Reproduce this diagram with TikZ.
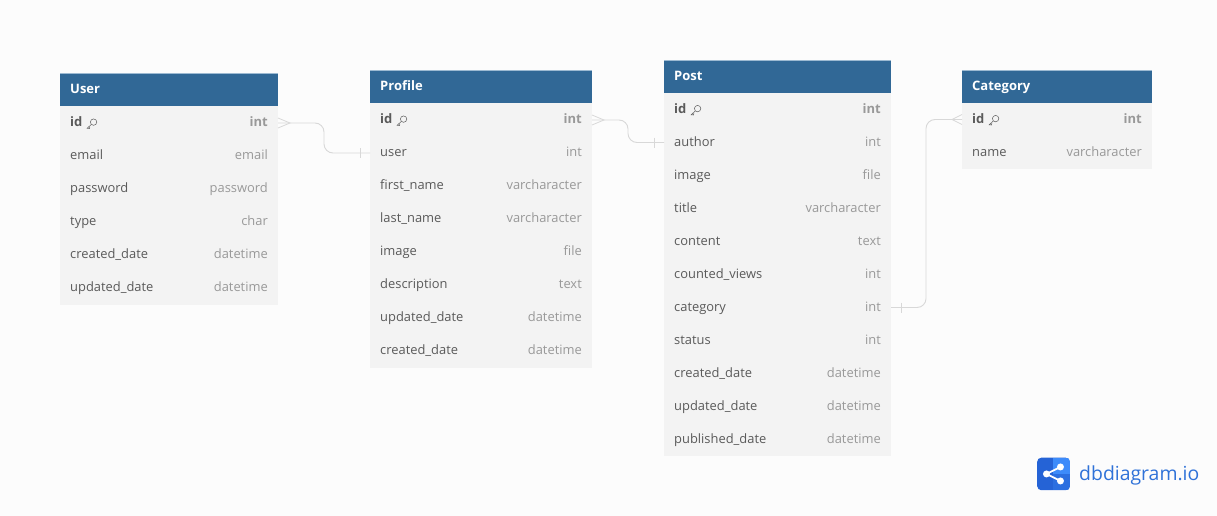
\documentclass[tikz,border=0pt]{standalone}
\usepackage{fontspec}
\setmainfont{Open Sans}
\usetikzlibrary{positioning}
\definecolor{pagebg}{HTML}{FCFCFC}
\definecolor{headblue}{HTML}{316896}
\definecolor{headedge}{HTML}{9DBAD2}
\definecolor{rowgrey}{HTML}{F3F3F3}
\definecolor{fieldgrey}{HTML}{5A5A5A}
\definecolor{typegrey}{HTML}{999999}
\definecolor{relgrey}{HTML}{D8D8D8}
\definecolor{logodark}{HTML}{2563D6}
\definecolor{logomid}{HTML}{2C6FE0}
\definecolor{logolight}{HTML}{3D8BFA}
\definecolor{logotext}{HTML}{2F72D8}
\tikzset{
	tablehead/.style = {fill=headblue, minimum height=33pt, inner sep=0pt, outer sep=0pt},
	rowbox/.style = {fill=rowgrey, minimum height=33pt, inner sep=0pt, outer sep=0pt},
	headtext/.style = {text=white, font=\fontsize{13}{15}\selectfont\bfseries, inner sep=0pt, text height=9.5pt, text depth=3pt},
	fieldname/.style = {text=fieldgrey, font=\fontsize{12.9}{15}\selectfont, inner sep=0pt, text height=9.5pt, text depth=3pt},
	fieldtype/.style = {text=typegrey, font=\fontsize{12.9}{15}\selectfont, inner sep=0pt, text height=9.5pt, text depth=3pt},
	keyname/.style = {fieldname, font=\fontsize{13}{15}\selectfont\bfseries},
	keytype/.style = {fieldtype, font=\fontsize{13}{15}\selectfont\bfseries},
	rel/.style = {draw=relgrey, line width=0.9pt, rounded corners=9pt},
	relmark/.style = {draw=relgrey, line width=0.8pt},
	logonode/.style = {fill=white, circle, inner sep=0pt, minimum size=7pt},
	keyicon/.pic = {
		\draw[fieldgrey, line width=0.5pt] (2,-1.6) circle (3.2pt);
		\draw[fieldgrey, line width=0.5pt] (-0.4,0.8) -- (-4.4,4.6) -- (-2,4.8) -- (-1.8,3.2);
	},
}
% one table head, then rows below one another
\newcommand{\dbhead}[5]{%
	\node (#1)[tablehead, minimum width=#4pt, anchor=north west] at (#2,#3){};
	\draw[headedge, line width=0.6pt] (#1.north west) -- (#1.north east);
	\node (#1-title)[headtext, anchor=west] at ([shift={(10,0.7)}]#1.west){#5};
}
\newcommand{\dbrow}[5]{%
	\node (#1)[rowbox, minimum width=#3pt, below=0pt of #2]{};
	\node (#1-name)[fieldname, anchor=west] at ([shift={(10,0.7)}]#1.west){#4};
	\node (#1-type)[fieldtype, anchor=east] at ([shift={(-10,0.7)}]#1.east){#5};
}
\newcommand{\dbkey}[3]{%
	\node (#1)[rowbox, minimum width=#3pt, below=0pt of #2]{};
	\node (#1-name)[keyname, anchor=west] at ([shift={(10,0.7)}]#1.west){id};
	\node (#1-type)[keytype, anchor=east] at ([shift={(-10,0.7)}]#1.east){int};
	\path ([xshift=9pt]#1-name.east) pic {keyicon};
}
\begin{document}
\begin{tikzpicture}[x=1pt, y=-1pt]
	\useasboundingbox[fill=pagebg] (0,0) rectangle (1217,516);
	%
	\dbhead{User}{60}{73.5}{218}{User}
	\dbkey{U-id}{User}{218}
	\dbrow{U-email}{U-id}{218}{email}{email}
	\dbrow{U-password}{U-email}{218}{password}{password}
	\dbrow{U-type}{U-password}{218}{type}{char}
	\dbrow{U-created}{U-type}{218}{created\_date}{datetime}
	\dbrow{U-updated}{U-created}{218}{updated\_date}{datetime}
	%
	\dbhead{Profile}{370}{70.5}{222}{Profile}
	\dbkey{Pr-id}{Profile}{222}
	\dbrow{Pr-user}{Pr-id}{222}{user}{int}
	\dbrow{Pr-first}{Pr-user}{222}{first\_name}{varcharacter}
	\dbrow{Pr-last}{Pr-first}{222}{last\_name}{varcharacter}
	\dbrow{Pr-image}{Pr-last}{222}{image}{file}
	\dbrow{Pr-desc}{Pr-image}{222}{description}{text}
	\dbrow{Pr-updated}{Pr-desc}{222}{updated\_date}{datetime}
	\dbrow{Pr-created}{Pr-updated}{222}{created\_date}{datetime}
	%
	\dbhead{Post}{664}{60}{227}{Post}
	\dbkey{Po-id}{Post}{227}
	\dbrow{Po-author}{Po-id}{227}{author}{int}
	\dbrow{Po-image}{Po-author}{227}{image}{file}
	\dbrow{Po-title}{Po-image}{227}{title}{varcharacter}
	\dbrow{Po-content}{Po-title}{227}{content}{text}
	\dbrow{Po-views}{Po-content}{227}{counted\_views}{int}
	\dbrow{Po-category}{Po-views}{227}{category}{int}
	\dbrow{Po-status}{Po-category}{227}{status}{int}
	\dbrow{Po-created}{Po-status}{227}{created\_date}{datetime}
	\dbrow{Po-updated}{Po-created}{227}{updated\_date}{datetime}
	\dbrow{Po-published}{Po-updated}{227}{published\_date}{datetime}
	%
	\dbhead{Category}{962}{70}{190}{Category}
	\dbkey{C-id}{Category}{190}
	\dbrow{C-name}{C-id}{190}{name}{varcharacter}
	%
	\draw[rel] (U-id.east) -- ++(46,0) |- (Pr-user.west);
	\draw[relmark] ([shift={(0,-5)}]U-id.east) -- ([shift={(12,0)}]U-id.east) -- ([shift={(0,5)}]U-id.east);
	\draw[relmark] ([shift={(-10,-5)}]Pr-user.west) -- ([shift={(-10,5)}]Pr-user.west);
	%
	\draw[rel] (Pr-id.east) -- ++(36,0) |- (Po-author.west);
	\draw[relmark] ([shift={(0,-5)}]Pr-id.east) -- ([shift={(12,0)}]Pr-id.east) -- ([shift={(0,5)}]Pr-id.east);
	\draw[relmark] ([shift={(-10,-5)}]Po-author.west) -- ([shift={(-10,5)}]Po-author.west);
	%
	\draw[rel] (Po-category.east) -- ++(35,0) |- (C-id.west);
	\draw[relmark] ([shift={(10,-5)}]Po-category.east) -- ([shift={(10,5)}]Po-category.east);
	\draw[relmark] ([shift={(0,-5)}]C-id.west) -- ([shift={(-10,0)}]C-id.west) -- ([shift={(0,5)}]C-id.west);
	%
	\node (logo)[fill=logodark, rounded corners=4pt, minimum size=32.5pt, inner sep=0pt, anchor=north west] at (1037,457.5){};
	\begin{scope}
		\clip[rounded corners=4pt] (logo.north west) rectangle (logo.south east);
		\fill[logolight] (logo.north) rectangle (logo.east);
		\fill[logomid] (logo.center) rectangle (logo.south east);
	\end{scope}
	\node (logo-a)[logonode] at ([shift={(-7,0)}]logo.center){};
	\node (logo-b)[logonode] at ([shift={(7,-7)}]logo.center){};
	\node (logo-c)[logonode] at ([shift={(7,7)}]logo.center){};
	\draw[white, line width=1.8pt] (logo-b.center) -- (logo-a.center) -- (logo-c.center);
	\node (logo-text)[text=logotext, font=\fontsize{19.4}{22}\selectfont, inner sep=0pt, anchor=west] at (1079,475){dbdiagram.io};
\end{tikzpicture}
\end{document}
